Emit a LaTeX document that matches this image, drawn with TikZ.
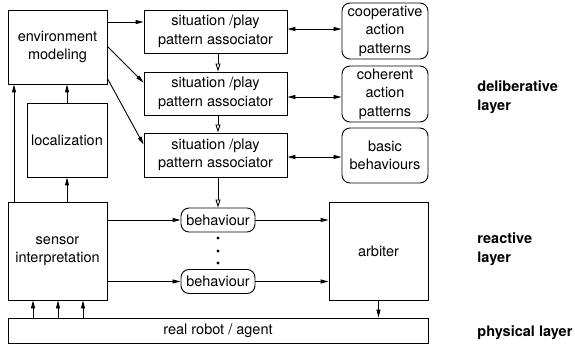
\documentclass[tikz,border=0pt]{standalone}
\usepackage{fontspec}
\setmainfont{TeX Gyre Heros}
\usetikzlibrary{arrows.meta}
\begin{document}
\begin{tikzpicture}[x=1pt,y=-1pt,line width=0.9pt,
  box/.style={draw,rectangle,align=center,inner sep=0pt,font=\fontsize{14.5}{18.5}\selectfont},
  rbox/.style={box,rounded corners=8pt},
  lbl/.style={anchor=west,align=left,inner sep=0pt,font=\fontsize{14.5}{18.5}\selectfont\bfseries},
  arr/.style={-{Triangle[length=8pt,width=4pt]}},
  darr/.style={{Triangle[length=8pt,width=4pt]}-{Triangle[length=8pt,width=4pt]}},
  oarr/.style={-{Triangle[open,length=8pt,width=5pt]}}]
\useasboundingbox (0,0) rectangle (575,347);
\node[box,minimum width=99pt,minimum height=74pt] (env) at (57.5,47) {environment\\modeling};
\node[box,minimum width=80pt,minimum height=74pt] (loc) at (67,140) {localization};
\node[box,minimum width=99pt,minimum height=98pt] (sens) at (57.5,251) {sensor\\interpretation};
\node[box,minimum width=143pt,minimum height=43pt] (sit1) at (215.5,31.5) {situation /play\\pattern associator};
\node[box,minimum width=143pt,minimum height=43pt] (sit2) at (215.5,93.5) {situation /play\\pattern associator};
\node[box,minimum width=143pt,minimum height=44pt] (sit3) at (215.5,155) {situation /play\\pattern associator};
\node[rbox,minimum width=86pt,minimum height=56pt] (coop) at (385,31) {cooperative\\action\\patterns};
\node[rbox,minimum width=86pt,minimum height=56pt] (coh) at (385,94) {coherent\\action\\patterns};
\node[rbox,minimum width=86pt,minimum height=55pt] (basic) at (385,155.5) {basic\\behaviours};
\node[rbox,minimum width=74pt,minimum height=24pt] (beh1) at (218,220) {behaviour};
\node[rbox,minimum width=74pt,minimum height=24pt] (beh2) at (218,281.5) {behaviour};
\node[box,minimum width=99pt,minimum height=98pt] (arb) at (378.5,251) {arbiter};
\node[box,minimum width=420pt,minimum height=25pt] (robot) at (218,330.5) {real robot / agent};
\node[lbl] (dl) at (477,97) {deliberative\\layer};
\node[lbl] (rl) at (477,249) {reactive\\layer};
\node[lbl] (pl) at (477,333) {physical layer};
% env to situation
\draw[arr] ([yshift=-12.5pt]env.north east) -- ([yshift=-12.5pt]sit1.north west);
\draw[arr] ([yshift=-37pt]env.north east) -- ([yshift=-11pt]sit2.north west);
\draw[arr] ([yshift=-69pt]env.north east) -- ([yshift=-12pt]sit3.north west);
% double arrows
\draw[darr] ([yshift=2.5pt]sit1.east) -- ([yshift=2.5pt]sit1.east -| coop.west);
\draw[darr] ([yshift=-3.5pt]sit2.east) -- ([yshift=-3.5pt]sit2.east -| coh.west);
\draw[darr] ([yshift=-2pt]sit3.east) -- ([yshift=-2pt]sit3.east -| basic.west);
% open arrows
\draw[oarr] ([xshift=2.5pt]sit1.south) -- ([xshift=2.5pt]sit2.north);
\draw[oarr] ([xshift=2.5pt]sit2.south) -- ([xshift=2.5pt]sit3.north);
\draw[oarr] (sit3.south -| beh1.north) -- (beh1.north);
% dots
\foreach \yy [count=\i] in {238,251,263} \fill (218,\yy) circle (1.6pt) coordinate (dot\i);
% sensor to behaviours
\draw[arr] (sens.east |- beh1.west) -- (beh1.west);
\draw[arr] (sens.east |- beh2.west) -- (beh2.west);
\draw[arr] (beh1.east) -- (beh1.east -| arb.west);
\draw[arr] (beh2.east) -- (beh2.east -| arb.west);
% vertical arrows
\draw[arr] (sens.north -| 14,0) -- (env.south -| 14,0);
\draw[arr] (sens.north -| loc.south) -- (loc.south);
\draw[arr] (loc.north) -- (env.south -| loc.north);
\foreach \xx in {33,58,83} \draw[arr] (robot.north -| \xx,0) -- (sens.south -| \xx,0);
\draw[arr] (arb.south) -- (robot.north -| arb.south);
\end{tikzpicture}
\end{document}
